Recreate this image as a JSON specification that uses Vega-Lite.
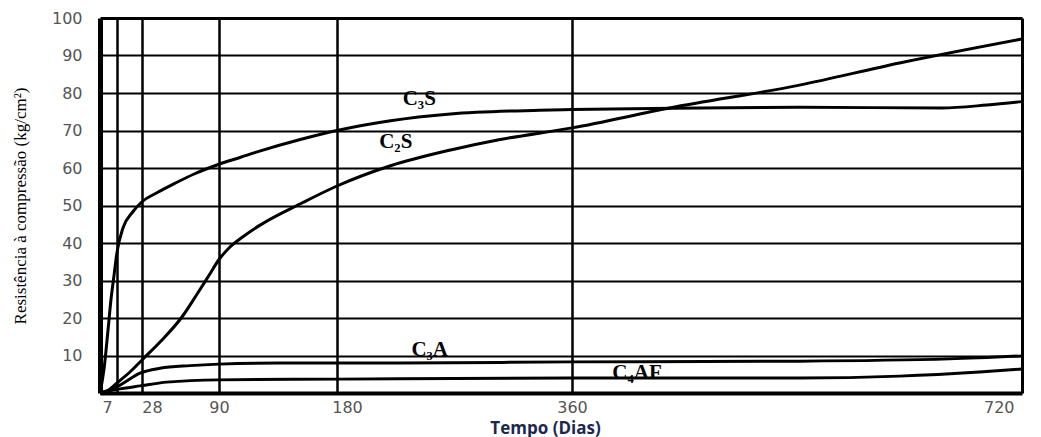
{
  "$schema": "https://vega.github.io/schema/vega-lite/v6.json",
  "width": 922,
  "height": 375,
  "autosize": {"type": "none"},
  "padding": {"left": 100, "top": 18, "right": 19, "bottom": 44},
  "background": "white",
  "config": {"view": {"stroke": null}},
  "datasets": {
    "curves": [
      {"composto": "C3S", "dias": 0, "resistencia": 0},
      {"composto": "C3S", "dias": 1.6, "resistencia": 6.1},
      {"composto": "C3S", "dias": 3.3, "resistencia": 16.8},
      {"composto": "C3S", "dias": 4.5, "resistencia": 24.8},
      {"composto": "C3S", "dias": 5.8, "resistencia": 31.5},
      {"composto": "C3S", "dias": 7, "resistencia": 37.5},
      {"composto": "C3S", "dias": 12, "resistencia": 44},
      {"composto": "C3S", "dias": 20, "resistencia": 48.2},
      {"composto": "C3S", "dias": 28, "resistencia": 51},
      {"composto": "C3S", "dias": 40, "resistencia": 53.4},
      {"composto": "C3S", "dias": 55, "resistencia": 56},
      {"composto": "C3S", "dias": 70, "resistencia": 58.4},
      {"composto": "C3S", "dias": 90, "resistencia": 61},
      {"composto": "C3S", "dias": 106, "resistencia": 62.8},
      {"composto": "C3S", "dias": 121, "resistencia": 64.5},
      {"composto": "C3S", "dias": 152, "resistencia": 67.6},
      {"composto": "C3S", "dias": 180, "resistencia": 70},
      {"composto": "C3S", "dias": 221, "resistencia": 72.6},
      {"composto": "C3S", "dias": 267, "resistencia": 74.4},
      {"composto": "C3S", "dias": 335, "resistencia": 75.4},
      {"composto": "C3S", "dias": 360, "resistencia": 75.6},
      {"composto": "C3S", "dias": 462, "resistencia": 76},
      {"composto": "C3S", "dias": 542, "resistencia": 76.2},
      {"composto": "C3S", "dias": 656, "resistencia": 76},
      {"composto": "C3S", "dias": 692, "resistencia": 76.8},
      {"composto": "C3S", "dias": 720, "resistencia": 77.7},
      {"composto": "C2S", "dias": 0, "resistencia": 0},
      {"composto": "C2S", "dias": 2.9, "resistencia": 0.5},
      {"composto": "C2S", "dias": 7, "resistencia": 2.7},
      {"composto": "C2S", "dias": 17.9, "resistencia": 5.6},
      {"composto": "C2S", "dias": 28, "resistencia": 8.8},
      {"composto": "C2S", "dias": 42.5, "resistencia": 13.6},
      {"composto": "C2S", "dias": 60, "resistencia": 20.2},
      {"composto": "C2S", "dias": 72, "resistencia": 26.2},
      {"composto": "C2S", "dias": 82, "resistencia": 31.4},
      {"composto": "C2S", "dias": 90, "resistencia": 35.6},
      {"composto": "C2S", "dias": 98, "resistencia": 38.8},
      {"composto": "C2S", "dias": 108, "resistencia": 41.6},
      {"composto": "C2S", "dias": 121, "resistencia": 44.7},
      {"composto": "C2S", "dias": 154, "resistencia": 50.8},
      {"composto": "C2S", "dias": 180, "resistencia": 55.2},
      {"composto": "C2S", "dias": 221, "resistencia": 60.6},
      {"composto": "C2S", "dias": 267, "resistencia": 64.8},
      {"composto": "C2S", "dias": 305, "resistencia": 67.6},
      {"composto": "C2S", "dias": 360, "resistencia": 70.7},
      {"composto": "C2S", "dias": 438, "resistencia": 76},
      {"composto": "C2S", "dias": 542, "resistencia": 82.1},
      {"composto": "C2S", "dias": 622, "resistencia": 88},
      {"composto": "C2S", "dias": 720, "resistencia": 94.4},
      {"composto": "C3A", "dias": 0, "resistencia": 0},
      {"composto": "C3A", "dias": 4.1, "resistencia": 0.8},
      {"composto": "C3A", "dias": 9.5, "resistencia": 2.1},
      {"composto": "C3A", "dias": 26.3, "resistencia": 5.3},
      {"composto": "C3A", "dias": 42.5, "resistencia": 6.6},
      {"composto": "C3A", "dias": 66.7, "resistencia": 7.3},
      {"composto": "C3A", "dias": 90, "resistencia": 7.7},
      {"composto": "C3A", "dias": 136.5, "resistencia": 8},
      {"composto": "C3A", "dias": 228, "resistencia": 8},
      {"composto": "C3A", "dias": 360, "resistencia": 8.3},
      {"composto": "C3A", "dias": 542, "resistencia": 8.5},
      {"composto": "C3A", "dias": 662, "resistencia": 9.1},
      {"composto": "C3A", "dias": 720, "resistencia": 9.9},
      {"composto": "C4AF", "dias": 0, "resistencia": 0},
      {"composto": "C4AF", "dias": 9.5, "resistencia": 1.1},
      {"composto": "C4AF", "dias": 26.3, "resistencia": 1.9},
      {"composto": "C4AF", "dias": 48, "resistencia": 2.9},
      {"composto": "C4AF", "dias": 90, "resistencia": 3.5},
      {"composto": "C4AF", "dias": 182, "resistencia": 3.7},
      {"composto": "C4AF", "dias": 360, "resistencia": 4},
      {"composto": "C4AF", "dias": 542, "resistencia": 4},
      {"composto": "C4AF", "dias": 622, "resistencia": 4.5},
      {"composto": "C4AF", "dias": 686, "resistencia": 5.6},
      {"composto": "C4AF", "dias": 720, "resistencia": 6.4}
    ],
    "labels": [
      {"rotulo": "C₃S", "dias": 243, "resistencia": 78.3},
      {"rotulo": "C₂S", "dias": 225, "resistencia": 67},
      {"rotulo": "C₃A", "dias": 251, "resistencia": 11.6},
      {"rotulo": "C₄AF", "dias": 412, "resistencia": 5.4}
    ]
  },
  "layer": [
    {
      "data": {"name": "curves"},
      "mark": {"type": "line", "color": "black", "strokeWidth": 3, "interpolate": "monotone"},
      "encoding": {
        "x": {
          "field": "dias", "type": "quantitative",
          "scale": {"domain": [0, 7, 28, 90, 180, 360, 720], "range": [0, 17, 42, 119, 237, 472, 922], "nice": false, "zero": false},
          "axis": {
            "values": [7, 28, 90, 180, 360, 720],
            "title": "Tempo (Dias)",
            "titleFont": "Open Sans", "titleFontWeight": "bold", "titleFontSize": 17, "titleColor": "#1c2850",
            "titleX": 445, "titleY": 35, "titleBaseline": "middle", "titleAnchor": "middle",
            "domain": true, "domainColor": "black", "domainWidth": 4,
            "ticks": false,
            "labelFont": "DejaVu Sans", "labelFontSize": 16, "labelColor": "#555555", "labelPadding": 6,
            "labelOffset": {"condition": [
              {"test": "datum.value == 7", "value": -10},
              {"test": "datum.value == 28", "value": 10},
              {"test": "datum.value == 180", "value": 10},
              {"test": "datum.value == 720", "value": -8}
            ], "value": 0},
            "grid": true, "gridColor": "black", "gridOpacity": 1,
            "gridWidth": {"condition": {"test": "datum.value == 720", "value": 3}, "value": 2.5}
          }
        },
        "y": {
          "field": "resistencia", "type": "quantitative",
          "scale": {"domain": [0, 100], "nice": false},
          "axis": {
            "values": [10, 20, 30, 40, 50, 60, 70, 80, 90, 100],
            "title": "Resistência à compressão (kg/cm²)",
            "titleFont": "Liberation Serif", "titleFontWeight": "normal", "titleFontSize": 17, "titleColor": "black",
            "titleX": -80, "titleY": 187.5, "titleAngle": -90, "titleBaseline": "middle", "titleAlign": "center",
            "domain": true, "domainColor": "black", "domainWidth": 5,
            "ticks": false,
            "labelFont": "DejaVu Sans", "labelFontSize": 16, "labelColor": "#555555", "labelPadding": 18,
            "grid": true, "gridColor": "black", "gridOpacity": 1,
            "gridWidth": {"condition": {"test": "datum.value == 100", "value": 3}, "value": 2}
          }
        },
        "detail": {"field": "composto"}
      }
    },
    {
      "data": {"name": "labels"},
      "mark": {"type": "text", "font": "Liberation Serif", "fontWeight": "bold", "fontSize": 21, "color": "black", "baseline": "middle", "align": "center"},
      "encoding": {
        "x": {"field": "dias", "type": "quantitative"},
        "y": {"field": "resistencia", "type": "quantitative"},
        "text": {"field": "rotulo"}
      }
    }
  ]
}
